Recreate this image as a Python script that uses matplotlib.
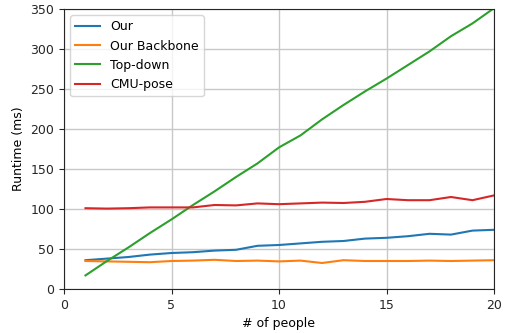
import matplotlib
matplotlib.use("Agg")
import matplotlib.pyplot as plt
import numpy as np

people = np.arange(1, 21)
our = [36, 38, 40, 43, 45, 46, 48, 49, 54, 55, 57, 59, 60, 63, 64, 66, 69, 68, 73, 74]
backbone = [35, 34.5, 34, 33.5, 35, 35.5, 36.5, 35, 35.5, 34.5, 35.5, 32.5, 36, 35, 35, 35, 35.5, 35, 35.5, 36]
topdown = [17, 35, 52, 70, 87, 105, 122, 140, 157, 177, 192, 212, 230, 247, 263, 280, 297, 316, 332, 351]
cmu = [101, 100.5, 101, 102, 102, 102, 105, 104.5, 107, 106, 107, 108, 107.5, 109, 112.5, 111, 111, 115, 111, 117]

fig = plt.figure(figsize=(5.09, 3.33), dpi=100)
ax = fig.add_axes([64 / 509, 1 - 289 / 333, 430 / 509, 280 / 333])

ax.plot(people, our, color="#1f77b4", lw=1.5, label="Our")
ax.plot(people, backbone, color="#ff7f0e", lw=1.5, label="Our Backbone")
ax.plot(people, topdown, color="#2ca02c", lw=1.5, label="Top-down")
ax.plot(people, cmu, color="#d62728", lw=1.5, label="CMU-pose")

ax.set_xlim(0, 20)
ax.set_ylim(0, 350)
ax.set_xticks([0, 5, 10, 15, 20])
ax.set_yticks(np.arange(0, 351, 50))
ax.grid(True, color="#c8c8c8", lw=1)
ax.set_axisbelow(True)
for s in ax.spines.values():
    s.set_color("#262626")
ax.tick_params(labelsize=9, colors="#262626")
ax.set_xlabel("# of people", fontsize=9)
ax.set_ylabel("Runtime (ms)", fontsize=9)
ax.legend(loc="upper left", fontsize=9)

fig.savefig("out.png", dpi=100)
